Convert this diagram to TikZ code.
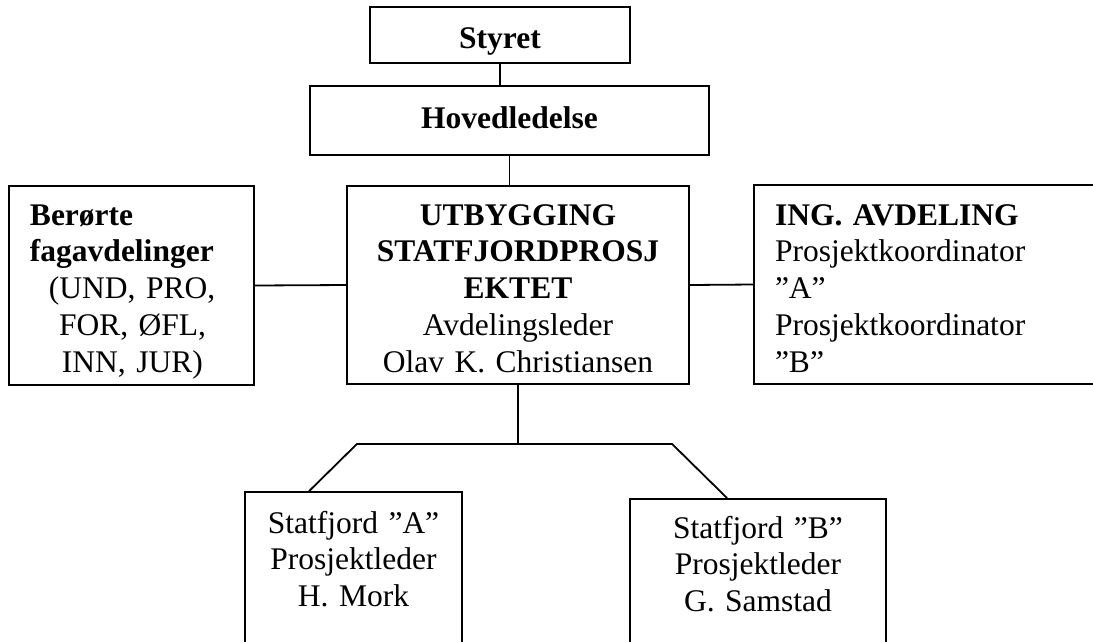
\documentclass[tikz,border=0pt]{standalone}
\usepackage{fontspec}
\setmainfont{Liberation Serif}
\usetikzlibrary{positioning}
\frenchspacing

\begin{document}
\begin{tikzpicture}[x=1pt, y=-1pt, line width=1.8pt,
    box/.style={draw, rectangle, anchor=base, inner xsep=0pt, inner ysep=0pt,
      font=\fontsize{31.5}{36.8}\selectfont},
    sidebox/.style={box, align=left, inner xsep=21pt}]
    \useasboundingbox (0,0) rectangle (1093,641);
    \clip (0,0) rectangle (1093,641);

    \node[box, minimum width=260pt, text height=41pt, text depth=15pt] (styret) at (500,48) {\textbf{Styret}};
    \node[box, minimum width=399pt, text height=42pt, text depth=27pt] (hoved) at (509.5,128) {\textbf{Hovedledelse}};
    \node[box, text width=342pt, align=center, text height=39pt, text depth=159pt] (utb) at (518,225)
      {\textbf{UTBYGGING}\\\textbf{STATFJORDPROSJ}\\\textbf{EKTET}\\Avdelingsleder\\Olav K. Christiansen};
    \node[sidebox, text width=203pt, text height=39pt, text depth=160pt] (berorte) at (131.5,225)
      {\textbf{Berørte}\\\textbf{fagavdelinger}\\\hspace*{19pt}(UND, PRO,\\\hspace*{29pt}FOR, ØFL,\\\hspace*{32pt}INN, JUR)};
    \node[sidebox, text width=327pt, text height=40pt, text depth=159pt] (ing) at (938.5,225)
      {\textbf{ING. AVDELING}\\Prosjektkoordinator\\”A”\\Prosjektkoordinator\\”B”};
    \node[box, text width=217pt, align=center, text height=41pt, text depth=167pt] (statA) at (353.5,533)
      {Statfjord ”A”\\Prosjektleder\\H. Mork};
    \node[box, text width=256pt, align=center, text height=39pt, text depth=162pt] (statB) at (758,538)
      {Statfjord ”B”\\Prosjektleder\\G. Samstad};

    \coordinate[below=59pt of utb.south] (fork);
    \coordinate[left=161pt of fork] (forkA);
    \coordinate[right=154pt of fork] (forkB);

    \draw (styret.south) -- (styret.south |- hoved.north);
    \draw (hoved.south) -- (hoved.south |- utb.north);
    \draw (berorte.east) -- (utb.west);
    \draw (utb.east) -- (ing.west);
    \draw (utb.south) -- (fork);
    \draw ([xshift=65pt]statA.north west) -- (forkA) -- (forkB) -- ([xshift=98pt]statB.north west);
  \end{tikzpicture}
\end{document}
